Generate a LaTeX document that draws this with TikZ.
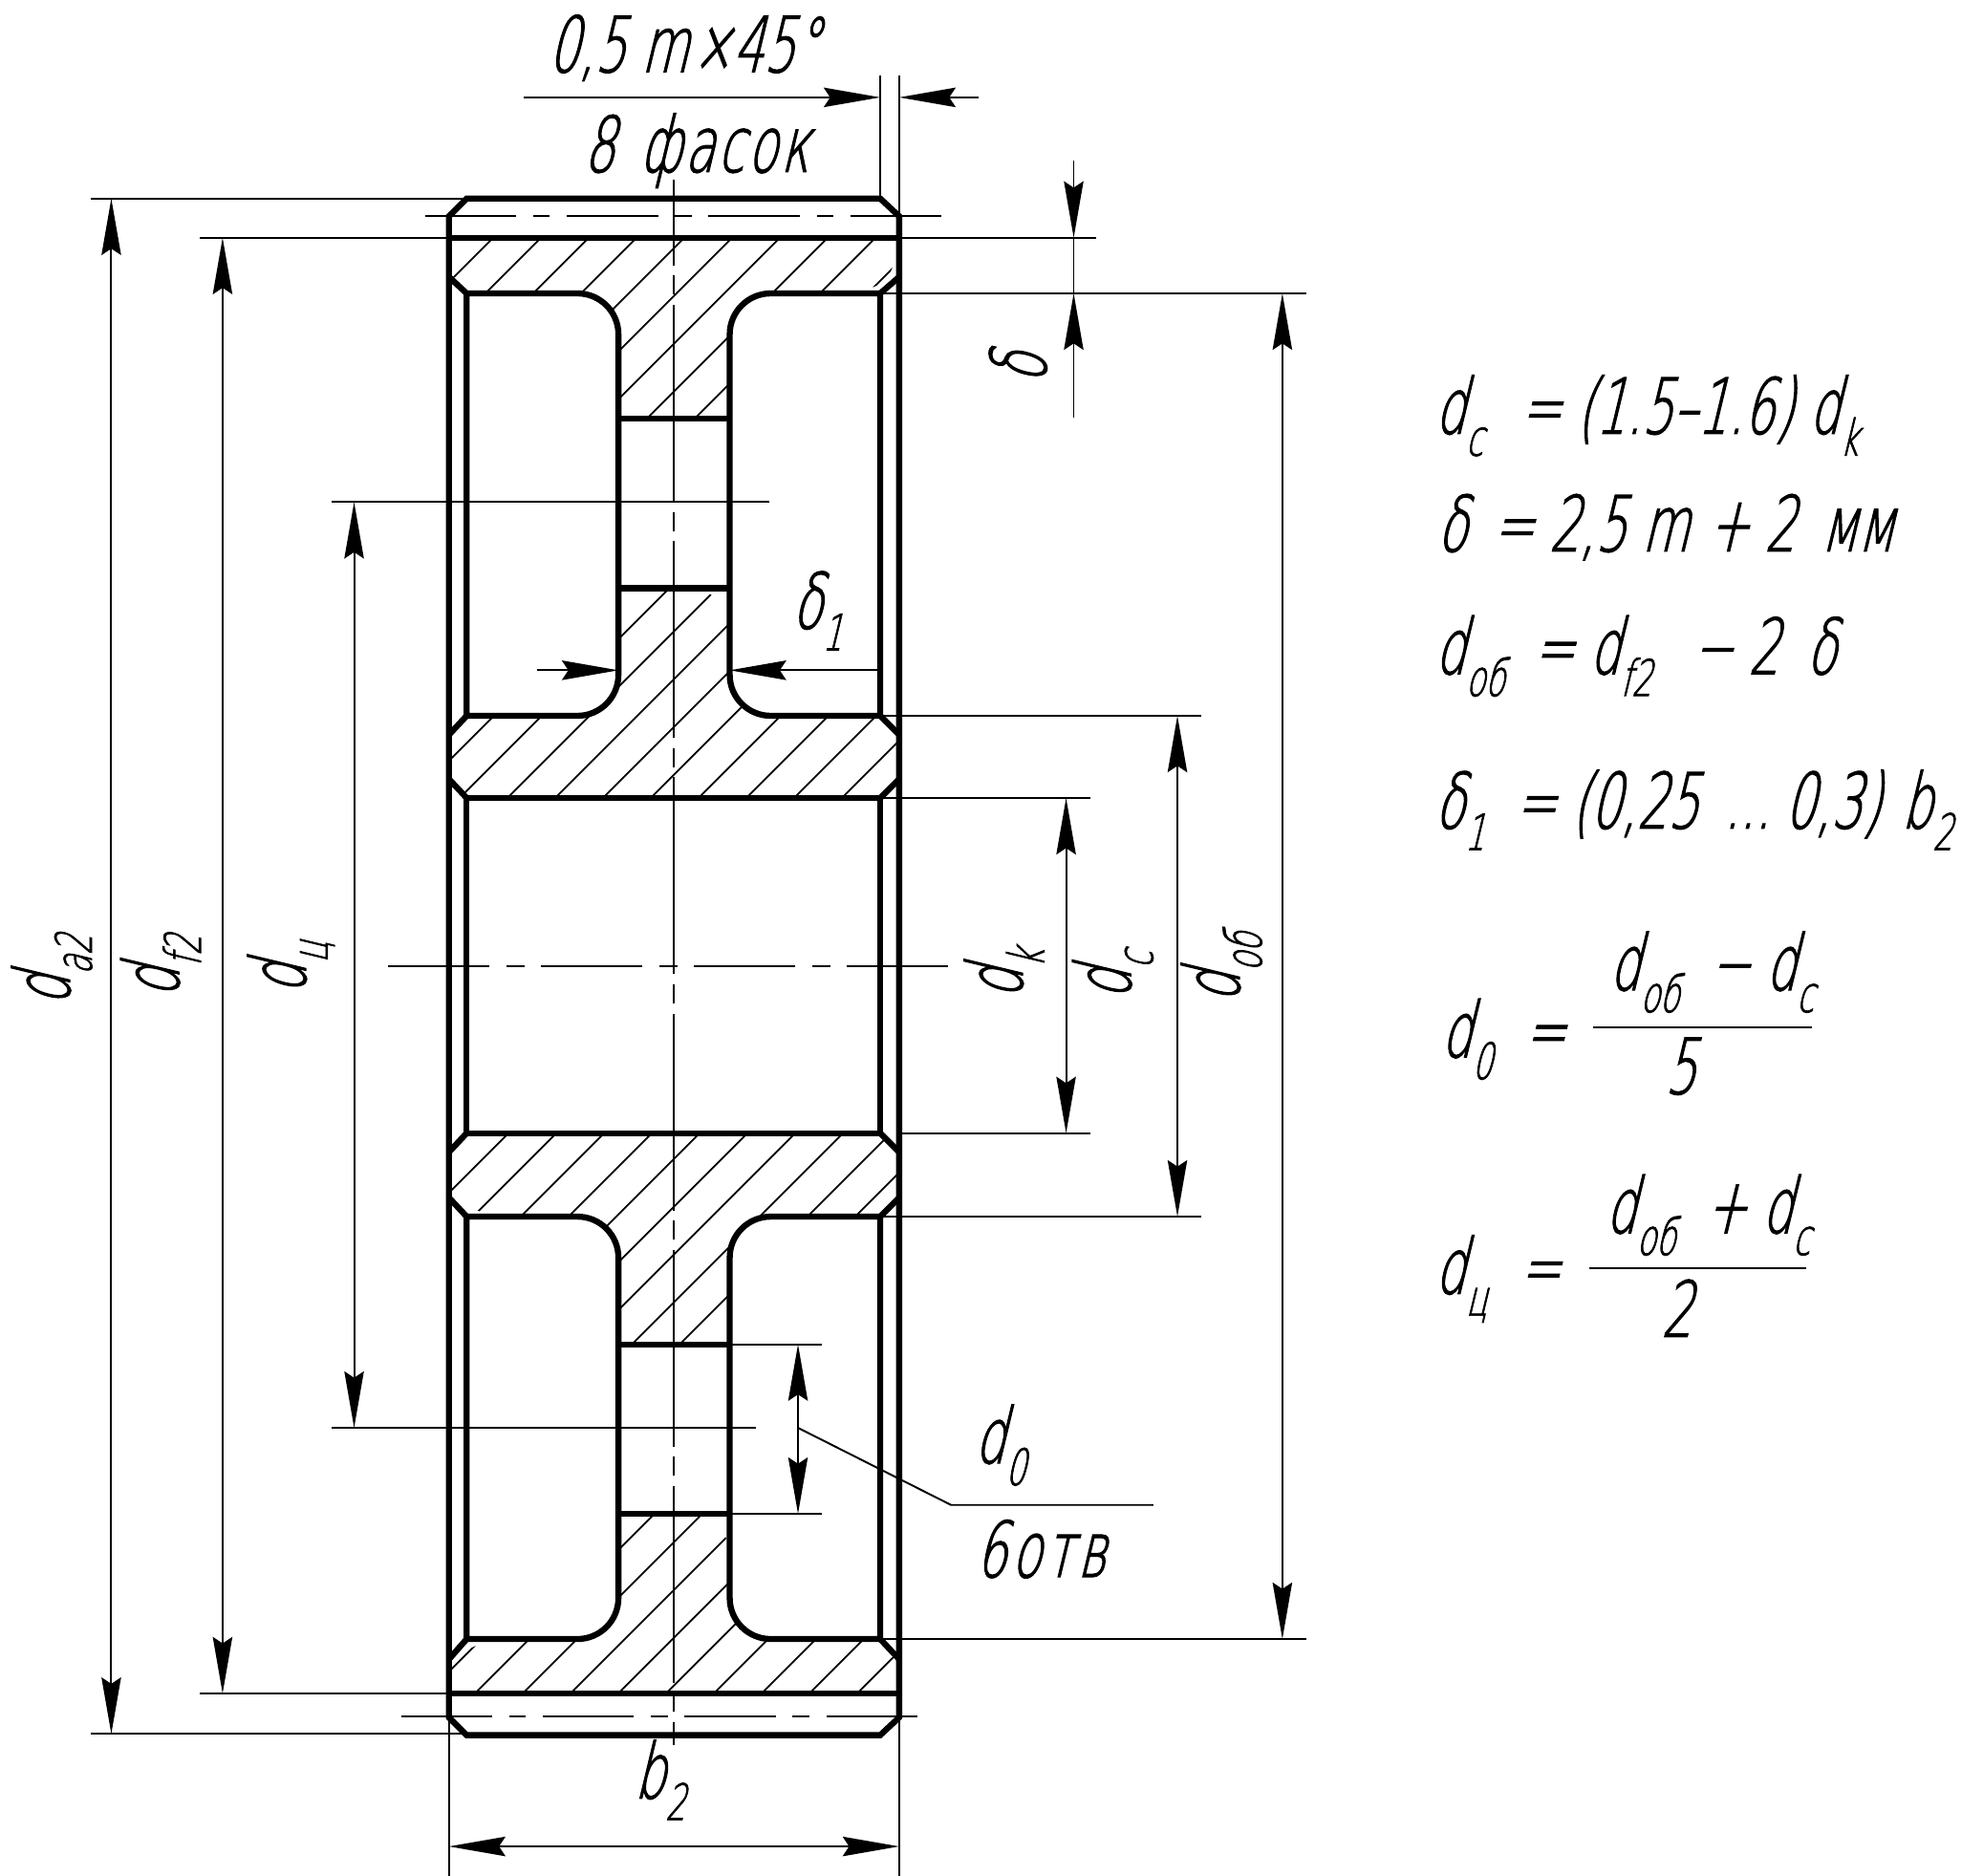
\documentclass[tikz,border=0pt]{standalone}
\usepackage{fontspec}
\setmainfont{DejaVu Sans ExtraLight}[FakeStretch=0.63,FakeSlant=0.24,FakeBold=1.3]
\usetikzlibrary{arrows.meta}
\newcommand{\low}[1]{\raisebox{-6.5pt}{\fontsize{15}{15}\selectfont #1}}
\newcommand{\gearhatch}[2]{\begin{scope}\clip[rounded corners=12.2pt] #1;
\foreach \k in {0,...,46} {\draw[hatchline] ({(#2+500+50*\k)/1.3234},0) -- ++(-1600,1600);}
\end{scope}}
\tikzset{
thickline/.style={line width=1.8pt,line join=miter},
thinline/.style={line width=0.55pt},
hatchline/.style={line width=0.5pt},
axisv/.style={line width=0.55pt,dash pattern=on 58.6pt off 3pt on 5.7pt off 3pt,dash phase=33pt},
axish/.style={line width=0.55pt,dash pattern=on 30.2pt off 5pt on 5.3pt off 5pt},
axisp/.style={line width=0.55pt,dash pattern=on 27.2pt off 5pt on 5pt off 5pt},
lbl/.style={inner sep=0pt,anchor=base west,font=\fontsize{23}{25}\selectfont},
vlbl/.style={inner sep=0pt,anchor=center,rotate=90,font=\fontsize{23}{25}\selectfont},
>={Stealth[length=16.8pt,width=5.8pt,inset=1.9pt]}
}
\begin{document}
\begin{tikzpicture}[x=0.013234cm,y=-0.013234cm]
\useasboundingbox (0,0) rectangle (1568,1483.3);
% hatching
\gearhatch{(355,188) -- (711,188) -- (711,219) -- (696,232) -- (577,232) -- (577,331) [sharp corners] -- (489,331) [rounded corners=12.2pt] -- (489,232) -- (369,232) [sharp corners] -- (355,219) -- cycle}{15}
\gearhatch{(489,465) -- (489,566) -- (369,566) [sharp corners] -- (355,581) -- (355,616) -- (369,631) -- (696,631) -- (711,616) -- (711,581) -- (696,566) [rounded corners=12.2pt] -- (577,566) -- (577,465) [sharp corners] -- cycle}{16}
\gearhatch{(489,1063) -- (489,962) -- (369,962) [sharp corners] -- (355,947) -- (355,911) -- (369,896) -- (696,896) -- (711,911) -- (711,947) -- (696,962) [rounded corners=12.2pt] -- (577,962) -- (577,1063) [sharp corners] -- cycle}{18}
\gearhatch{(489,1197) -- (489,1296) -- (369,1296) [sharp corners] -- (355,1312) -- (355,1339) -- (711,1339) -- (711,1312) -- (696,1296) [rounded corners=12.2pt] -- (577,1296) -- (577,1197) [sharp corners] -- cycle}{19}
% gear outline
\draw[thickline] (355,171) -- (369,157) -- (696,157) -- (711,171) -- (711,1358) -- (696,1372) -- (369,1372) -- (355,1358) -- cycle;
\draw[thickline] (355,188) -- (711,188);
\draw[thickline] (355,1339) -- (711,1339);
\draw[thickline] (369,631) rectangle (696,896);
\foreach \ya/\yb in {232/566,962/1296}
  \foreach \xa/\xb in {369/489,696/577}
    \draw[thickline] (\xa,\ya) [rounded corners=12.2pt] -- (\xb,\ya) -- (\xb,\yb) [sharp corners] -- (\xa,\yb) -- cycle;
\foreach \ya/\yb in {219/232,581/566,616/631,911/896,947/962,1312/1296} {
  \draw[thickline] (355,\ya) -- (369,\yb);
  \draw[thickline] (711,\ya) -- (696,\yb);
}
\foreach \ya in {331,465,1063,1197}
  \draw[thickline] (489,\ya) -- (577,\ya);
% axes
\draw[axisv] (533,142) -- (533,1380);
\draw[axish] (307,764) -- (752,764);
\draw[axisp] (336,171) -- (752,171);
\draw[axisp] (317,1357) -- (734,1357);
% extension lines
\draw[thinline] (72,157) -- (369,157);
\draw[thinline] (72,1371) -- (369,1371);
\draw[thinline] (158,188) -- (355,188);
\draw[thinline] (158,1339) -- (355,1339);
\draw[thinline] (262,397) -- (608,397);
\draw[thinline] (262,1129) -- (598,1129);
\draw[thinline] (711,188) -- (867,188);
\draw[thinline] (696,232) -- (1033,232);
\draw[thinline] (696,1296) -- (1033,1296);
\draw[thinline] (696,566) -- (950,566);
\draw[thinline] (696,962) -- (950,962);
\draw[thinline] (696,631) -- (862,631);
\draw[thinline] (711,896) -- (862,896);
\draw[thinline] (577,1063) -- (650,1063);
\draw[thinline] (577,1197) -- (650,1197);
\draw[thinline] (696,157) -- (696,60);
\draw[thinline] (711,171) -- (711,60);
\draw[thinline] (355,1358) -- (355,1483);
\draw[thinline] (711,1358) -- (711,1483);
% dimension lines
\draw[thinline,<->] (88,157) -- (88,1371);
\draw[thinline,<->] (176,188) -- (176,1339);
\draw[thinline,<->] (280,397) -- (280,1129);
\draw[thinline,<->] (843,631) -- (843,896);
\draw[thinline,<->] (931,566) -- (931,962);
\draw[thinline,<->] (1014,232) -- (1014,1296);
\draw[thinline,<->] (631,1063) -- (631,1197);
\draw[thinline,<->] (355,1460) -- (711,1460);
\draw[thinline,->] (414,77) -- (696,77);
\draw[thinline,->] (774,77) -- (711,77);
\draw[thinline,->] (849,127) -- (849,188);
\draw[thinline,->] (849,330) -- (849,232);
\draw[thinline] (849,188) -- (849,232);
\draw[thinline,->] (425,530) -- (489,530);
\draw[thinline,->] (696,530) -- (577,530);
\draw[thinline] (631,1129) -- (752,1190) -- (912,1190);
% labels on the drawing
\node[vlbl] (da2) at (41,767) {d\low{a2}};
\node[vlbl] (df2) at (127,764) {d\low{f2}};
\node[vlbl] (dc2) at (230,765) {d\low{ц}};
\node[vlbl] (dk) at (794,770) {d\low{k}};
\node[vlbl] (dhub) at (880,771) {d\low{c}};
\node[vlbl] (drim) at (966,765) {d\low{об}};
\node[vlbl] (dlt) at (805,291) {δ};
\node[lbl] (chamfer) at (433,57) {0,5 m\hspace{1pt}×45°};
\node[lbl] (chamfers) at (461,136) {\addfontfeature{LetterSpace=4}8\hspace{2pt} фасок};
\node[lbl] (dlt1) at (626,497) {δ\low{1}};
\node[lbl] (d0) at (770,1157) {d\low{0}};
\node[lbl] (holes) at (771,1247) {\addfontfeature{LetterSpace=6}6отв};
\node[lbl] (b2) at (501,1422) {b\low{2}};
% formulas
\node[lbl] (f1) at (1134,343) {d\low{c}\hspace{11pt}= (1.5–1.6) d\low{k}};
\node[lbl] (f2) at (1136,436) {δ\hspace{3pt} = 2,5 m \hspace{1pt}+ 2 \hspace{3pt}мм};
\node[lbl] (f3) at (1134,533) {d\low{об}\hspace{8.5pt}= d\low{f2}\hspace{12pt}− 2\hspace{3.5pt} δ};
\node[lbl] (f4) at (1134,655) {δ\low{1}\hspace{9pt}= (0,25\hspace{3pt} ...\hspace{-2pt} 0,3)\hspace{1.5pt} b\low{2}};
\node[lbl] (f5) at (1139,836) {d\low{0}\hspace{9.5pt}=};
\node[lbl] (f5n) at (1272,783) {d\low{об}\hspace{9pt}− d\low{c}};
\node[lbl] (f5d) at (1316,865) {5};
\draw[thinline] (1260,812) -- (1433,812);
\node[lbl] (f6) at (1134,1023) {d\low{ц}\hspace{9.5pt}=};
\node[lbl] (f6n) at (1269,975) {d\low{об}\hspace{9pt}+ d\low{c}};
\node[lbl] (f6d) at (1313,1057) {2};
\draw[thinline] (1257,1003) -- (1428,1003);
\end{tikzpicture}
\end{document}
